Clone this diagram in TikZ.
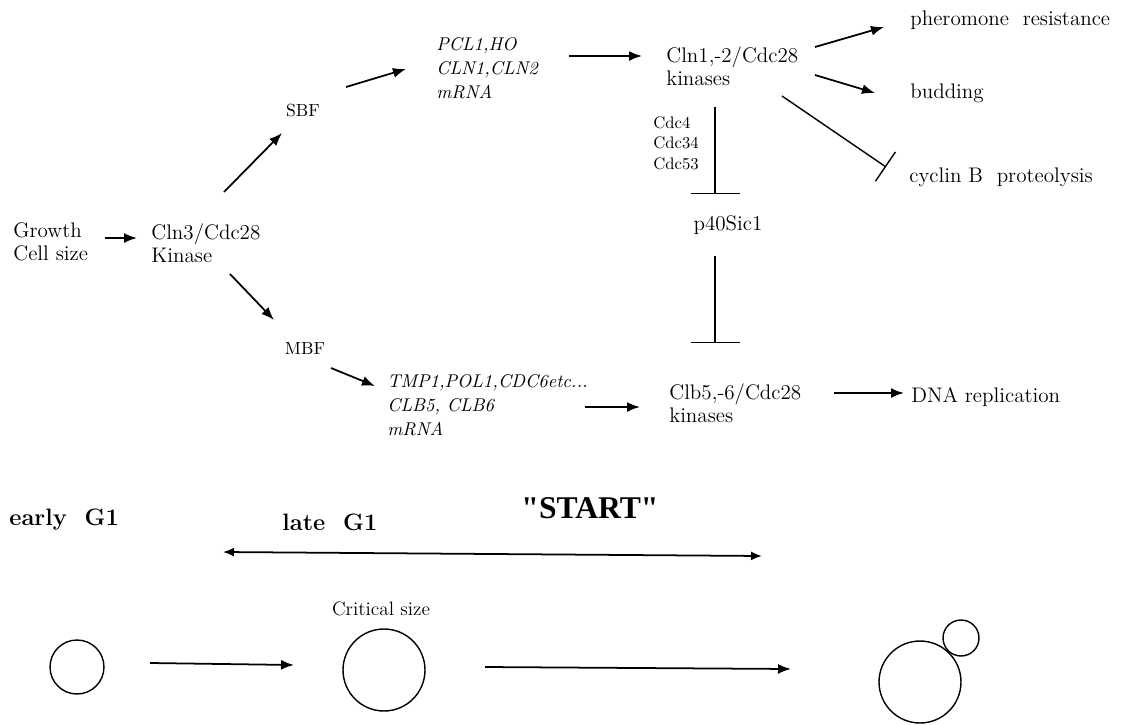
\documentclass[tikz,border=0pt]{standalone}
\usepackage{fontspec}
\newfontfamily\startfont{Liberation Serif}[Ligatures=TeXOff]
\usepackage{tikz}
\usetikzlibrary{arrows.meta,positioning,calc}

\begin{document}
\begin{tikzpicture}[
    x=0.02cm, y=-0.02cm,
    lbl/.style={anchor=west, inner sep=0pt, align=left, font=\fontsize{12}{13}\selectfont},
    gene/.style={anchor=west, inner sep=0pt, align=left, font=\fontsize{10.5}{13.5}\selectfont\itshape},
    small/.style={inner sep=0pt, align=left, font=\fontsize{10}{11.6}\selectfont},
    phase/.style={anchor=west, inner sep=0pt, font=\fontsize{13.5}{16}\selectfont\bfseries},
    cell/.style={draw, circle, line width=0.8pt, inner sep=0pt},
    arr/.style={-{Latex[length=0.26cm, width=0.2cm]}, line width=1pt},
    inh/.style={-{Bar[width=0.98cm]}, line width=0.8pt}
]
    \useasboundingbox (0,0) rectangle (1123,724);

    \node[lbl] (growth) at (13,242) {Growth\\Cell size};
    \node[lbl] (cln3) at (151,243) {Cln3/Cdc28\\Kinase};
    \node[small] (sbf) at (303,110) {SBF};
    \node[gene] (pcl) at (436,68) {PCL1,HO\\CLN1,CLN2\\mRNA};
    \node[lbl] (cln12) at (666,66) {Cln1,-2/Cdc28\\kinases};
    \node[lbl] (pher) at (910,20) {pheromone\ \ resistance};
    \node[lbl] (bud) at (910,93) {budding};
    \node[lbl] (cycb) at (909,177) {cyclin B\ \ proteolysis};
    \node[small, anchor=west, font=\fontsize{9.5}{11.6}\selectfont] (cdc) at (653,143) {Cdc4\\Cdc34\\Cdc53};
    \node[lbl, anchor=center] (sic) at (728,225) {p40Sic1};
    \node[small] (mbf) at (305,348) {MBF};
    \node[gene] (tmp) at (387,405) {TMP1,POL1,CDC6etc...\\CLB5, CLB6\\mRNA};
    \node[lbl] (clb) at (669,403) {Clb5,-6/Cdc28\\kinases};
    \node[lbl] (dna) at (911,397) {DNA replication};

    \node[phase] (early) at (9,520) {early\ \ G1};
    \node[phase] (late) at (282,522) {late\ \ G1};
    \node[inner sep=0pt, font=\startfont\fontsize{18}{20}\selectfont\bfseries] (start) at (590,508) {"START"};
    \node[small, font=\fontsize{11}{13}\selectfont] (crit) at (381,609) {Critical size};

    \node[cell, minimum size=1.08cm] (c0) at (77,667) {};
    \node[cell, minimum size=1.64cm] (c1) at (384,670) {};
    \node[cell, minimum size=1.64cm] (c2) at (920,682) {};
    \node[cell, minimum size=0.72cm] (bud2) at (961,638) {};

    \coordinate (g1a) at (223,552);
    \coordinate (g1b) at (762,556);

    \draw[arr] ([shift={(92,-4)}]growth.west) -- ([shift={(-14,-5)}]cln3.west);
    \draw[arr] ([shift={(73,-51)}]cln3.west) -- ([shift={(-21,23)}]sbf.center);
    \draw[arr] ([shift={(43,-23)}]sbf.center) -- ([shift={(-30,1)}]pcl.west);
    \draw[arr] ([shift={(133,-12)}]pcl.west) -- ([shift={(-24,-10)}]cln12.west);
    \draw[arr] ([shift={(149,-19)}]cln12.west) -- ([shift={(-26,7)}]pher.west);
    \draw[arr] ([shift={(149,9)}]cln12.west) -- ([shift={(-35,0)}]bud.west);
    \draw[inh, -{Bar[width=0.71cm]}] ([shift={(116,30)}]cln12.west) -- ([shift={(-23,-10)}]cycb.west);
    \draw[inh] ([shift={(49,41)}]cln12.west) -- ([shift={(-13,-31)}]sic.center);
    \draw[inh] ([shift={(-13,31)}]sic.center) -- ([shift={(46,-60)}]clb.west);
    \draw[arr] ([shift={(79,31)}]cln3.west) -- ([shift={(-31,-28)}]mbf.center);
    \draw[arr] ([shift={(26,20)}]mbf.center) -- ([shift={(-12,-19)}]tmp.west);
    \draw[arr] ([shift={(198,2)}]tmp.west) -- ([shift={(-29,4)}]clb.west);
    \draw[arr] ([shift={(165,-10)}]clb.west) -- ([shift={(-7,-4)}]dna.west);

    \draw[arr, {Latex[length=0.22cm, width=0.18cm]}-{Latex[length=0.22cm, width=0.18cm]}] (g1a) -- (g1b);

    \draw[arr] ([shift={(73,-4)}]c0.center) -- ([shift={(-90,-5)}]c1.center);
    \draw[arr] ([shift={(101,-3)}]c1.center) -- ([shift={(-129,-13)}]c2.center);
\end{tikzpicture}
\end{document}
